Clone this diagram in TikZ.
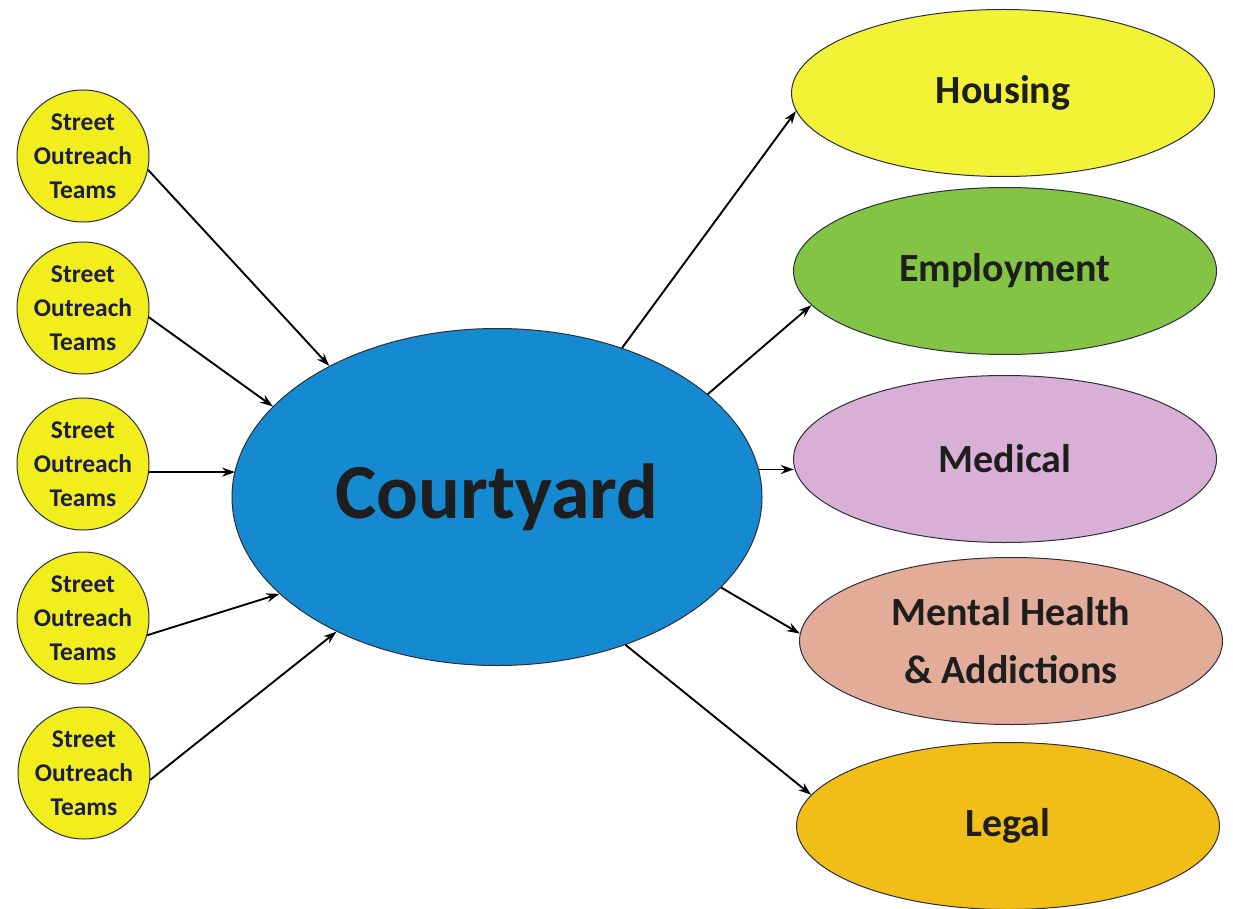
\documentclass[tikz,border=0pt]{standalone}
\usepackage{fontspec}
\setmainfont{Carlito}
\usetikzlibrary{shapes.geometric,arrows.meta}
\definecolor{circfill}{RGB}{242,238,30}
\definecolor{circtext}{RGB}{30,30,75}
\definecolor{courtfill}{RGB}{22,138,208}
\definecolor{housefill}{RGB}{242,242,55}
\definecolor{empfill}{RGB}{132,196,68}
\definecolor{medfill}{RGB}{216,176,214}
\definecolor{mentfill}{RGB}{226,172,152}
\definecolor{legalfill}{RGB}{240,190,22}
\definecolor{edgecol}{RGB}{45,45,60}
\definecolor{txt}{RGB}{30,30,30}
\tikzset{
  sot/.style={circle, draw=edgecol, line width=1pt, fill=circfill, minimum size=132pt, inner sep=0pt,
    align=center, text=circtext, font=\bfseries\fontsize{25.5}{34}\selectfont},
  svc/.style={ellipse, draw=edgecol, line width=1pt, minimum width=423pt, minimum height=167pt, inner sep=0pt,
    align=center, text=txt, font=\bfseries\fontsize{40}{58}\selectfont},
  hub/.style={ellipse, draw=edgecol, line width=1pt, fill=courtfill, minimum width=530pt, minimum height=337pt, inner sep=0pt,
    text=txt, font=\bfseries\fontsize{78}{90}\selectfont},
  conn/.style={line width=1.9pt, black, -{Stealth[length=13pt,width=9pt]}}
}
\begin{document}
\begin{tikzpicture}[x=1pt,y=-1pt]
\useasboundingbox (0,0) rectangle (1233,909);
\fill[white] (0,0) rectangle (1233,909);

\node[hub] (court) at (497,497) {Courtyard};

\node[sot] (c1) at (83,156) {Street\\Outreach\\Teams};
\node[sot] (c2) at (83,308) {Street\\Outreach\\Teams};
\node[sot] (c3) at (83,464) {Street\\Outreach\\Teams};
\node[sot] (c4) at (83,618) {Street\\Outreach\\Teams};
\node[sot] (c5) at (84,773) {Street\\Outreach\\Teams};

\node[svc, fill=housefill] (house) at (1003,93) {Housing};
\node[svc, fill=empfill] (emp) at (1005,271) {Employment};
\node[svc, fill=medfill] (med) at (1005,459) {Medical};
\node[svc, fill=mentfill] (ment) at (1011,641) {Mental Health\\\& Addictions};
\node[svc, fill=legalfill] (legal) at (1008,826) {Legal};

\draw[conn] (c1.-12) -- (court.142);
\draw[conn] (c2.-8) -- (court.158);
\draw[conn] (c3.-7) -- (c3.-7 -| court.174.5);
\draw[conn] (c4.-15) -- (court.-156.6);
\draw[conn] (c5.-6) -- (court.-140.2);

\draw[conn] (court.50.6) -- (house.185.3);
\draw[conn] (court.26.3) -- (emp.190.9);
\draw[conn] (court.6.2) -- (court.6.2 -| med.182.4);
\draw[conn] (court.-22.8) -- (ment.178.9);
\draw[conn] (court.-49.7) -- (legal.171);
\end{tikzpicture}
\end{document}
